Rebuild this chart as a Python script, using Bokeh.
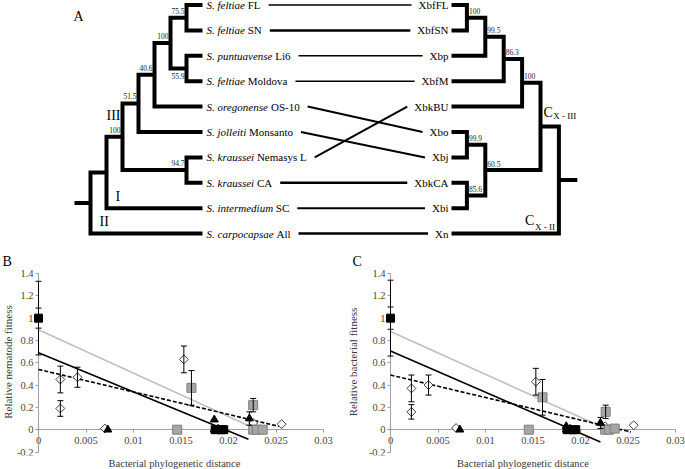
from bokeh.plotting import figure
from bokeh.layouts import column, row
from bokeh.models import (Range1d, ColumnDataSource, Whisker, TeeHead, FixedTicker,
                          NumeralTickFormatter, Title, LinearAxis)
from bokeh.core.properties import value
from bokeh.embed import file_html
from bokeh.resources import INLINE
import math

FONT = "Liberation Serif"

# ---------------- Panel A data ----------------
host_species = ["S. feltiae", "S. feltiae", "S. puntuavense", "S. feltiae", "S. oregonense",
                "S. jolleiti", "S. kraussei", "S. kraussei", "S. intermedium", "S. carpocapsae"]
host_strains = ["FL", "SN", "Li6", "Moldova", "OS-10", "Monsanto", "Nemasys L", "CA", "SC", "All"]
symbionts = ["XbfFL", "XbfSN", "Xbp", "XbfM", "XbkBU", "Xbo", "Xbj", "XbkCA", "Xbi", "Xn"]
host_symbiont = [0, 1, 2, 3, 5, 6, 4, 7, 8, 9]
link_widths = [1.5, 2.5, 1.5, 1.5, 2, 2, 2, 2.5, 2, 2.5]
# (child_a, child_b, support, clade label)
host_tree = (((((((0, 1, "75.5", ""), (2, 3, "55.9", ""), "100", ""), 4, "40.6", ""),
                5, "51.5", ""), (6, 7, "94.7", ""), "100", "III"), 8, "", "I"), 9, "", "II")
symbiont_tree = ((((((0, 1, "100", ""), 2, "99.5", ""), 3, "86.3", ""), 4, "100", ""),
                  ((5, 6, "99.9", ""), (7, 8, "85.6", ""), "60.5", ""), "", "X - III"),
                 9, "", "X - II")

# ---------------- Panels B / C data ----------------
x_ticks = [0, 0.005, 0.01, 0.015, 0.02, 0.025, 0.03]
y_ticks = [-0.2, 0, 0.2, 0.4, 0.6, 0.8, 1, 1.2, 1.4]

b_sq_x = [0, 0.0186, 0.0192, 0.0195]
b_sq_y = [1.0, 0, 0, 0]
b_sq_e = [0.09, 0, 0, 0]
b_tri_x = [0, 0.0073, 0.0185, 0.0185, 0.0222]
b_tri_y = [1.0, 0, 0.09, 0, 0.10]
b_tri_e = [0.33, 0, 0, 0, 0.06]
b_gsq_x = [0.0146, 0.0161, 0.0226, 0.0226, 0.0230, 0.0236]
b_gsq_y = [0, 0.375, 0.22, 0, 0, 0]
b_gsq_e = [0, 0.155, 0.06, 0, 0, 0]
b_dia_x = [0.0023, 0.0023, 0.0041, 0.0070, 0.0153, 0.0189, 0.0226, 0.0256]
b_dia_y = [0.45, 0.19, 0.47, 0.01, 0.63, 0.01, 0.06, 0.05]
b_dia_e = [0.12, 0.07, 0.09, 0, 0.12, 0, 0, 0]
b_trend_x0 = [0, 0, 0]
b_trend_y0 = [0.895, 0.69, 0.54]
b_trend_x1 = [0.0230, 0.0221, 0.0253]
b_trend_y1 = [0.0, -0.085, 0.03]

c_sq_x = [0, 0.0186, 0.0192, 0.0195]
c_sq_y = [1.0, 0, 0, 0]
c_sq_e = [0.10, 0, 0, 0]
c_tri_x = [0, 0.0073, 0.0185, 0.0185, 0.0221]
c_tri_y = [1.0, 0, 0.03, 0, 0.06]
c_tri_e = [0.34, 0, 0, 0, 0.05]
c_gsq_x = [0.01455, 0.0160, 0.02265, 0.0226, 0.0230, 0.0236]
c_gsq_y = [0, 0.29, 0.16, 0, 0, 0.01]
c_gsq_e = [0, 0.16, 0.06, 0, 0, 0]
c_dia_x = [0.0022, 0.0022, 0.0040, 0.0069, 0.0153, 0.0189, 0.0226, 0.0256]
c_dia_y = [0.37, 0.16, 0.40, 0.015, 0.43, 0.01, 0.03, 0.04]
c_dia_e = [0.12, 0.065, 0.09, 0, 0.12, 0, 0, 0]
c_trend_x0 = [0, 0, 0]
c_trend_y0 = [0.88, 0.705, 0.49]
c_trend_x1 = [0.0229, 0.0221, 0.0253]
c_trend_y1 = [0.0, -0.11, -0.02]

# ---------------- text metrics (Times) ----------------
TR = {' ': 250, '.': 250, '-': 333, '0': 500, '1': 500, '6': 500, 'A': 722, 'B': 667, 'C': 667,
      'F': 556, 'I': 333, 'L': 611, 'M': 889, 'N': 722, 'O': 722, 'S': 556, 'U': 722, 'X': 722,
      'a': 444, 'b': 500, 'c': 444, 'd': 500, 'e': 444, 'f': 333, 'i': 278, 'j': 278, 'k': 500,
      'l': 278, 'm': 778, 'n': 500, 'o': 500, 'p': 500, 'r': 333, 's': 389, 't': 278, 'v': 500,
      'y': 500}
TI = {' ': 250, '.': 250, 'S': 500, 'a': 500, 'c': 444, 'd': 500, 'e': 444, 'f': 278, 'g': 500,
      'i': 278, 'j': 278, 'k': 444, 'l': 278, 'm': 722, 'n': 500, 'o': 500, 'p': 500, 'r': 389,
      's': 389, 't': 278, 'u': 500, 'v': 444}


def text_w(s, table, size):
    return sum(table.get(ch, 500) for ch in s) * size / 1000.0


# ---------------- tree layout ----------------
TREE_W, TREE_H = 685, 250
TIP0_PX, TIP_STEP = 4.5, 25.4
Y_TOP_PX, Y_BOT_PX = 0.0, 250.0
tree_y_end = (Y_TOP_PX - TIP0_PX) / TIP_STEP
tree_y_start = (Y_BOT_PX - TIP0_PX) / TIP_STEP
PPU = TREE_H / (tree_y_start - tree_y_end)


def dy(px):
    return px / PPU


def host_x(level):
    return 202.0 - 16.0 * level


def symb_x(level):
    return 451.0 if level == 0 else 448.0 + 18.4 * level


def collect(node, out):
    if isinstance(node, int):
        return dict(lev=0, y=float(node), tip=True)
    a, b, sup, clade = node
    A = collect(a, out)
    B = collect(b, out)
    B["below"] = (A["lev"] == B["lev"])
    n = dict(lev=max(A["lev"], B["lev"]) + 1, y=(A["y"] + B["y"]) / 2, tip=False,
             A=A, B=B, sup=sup, clade=clade)
    out.append(n)
    return n


def polylines(nodes, root, fx):
    xs, ys = [], []
    for n in nodes:
        xa, xb, xn = fx(n["A"]["lev"]), fx(n["B"]["lev"]), fx(n["lev"])
        xs.append([xa, xn, xn, xb])
        ys.append([n["A"]["y"], n["A"]["y"], n["B"]["y"], n["B"]["y"]])
    xs.append([fx(root["lev"] + 1), fx(root["lev"])])
    ys.append([root["y"], root["y"]])
    return xs, ys


host_nodes, symb_nodes = [], []
host_root = collect(host_tree, host_nodes)
symb_root = collect(symbiont_tree, symb_nodes)

pt = figure(width=TREE_W, height=TREE_H, x_range=Range1d(0, TREE_W),
            y_range=Range1d(tree_y_start, tree_y_end), output_backend="svg",
            toolbar_location=None, x_axis_type=None, y_axis_type=None, min_border=0)
pt.outline_line_color = None
pt.grid.visible = False

for nodes, root, fx in ((host_nodes, host_root, host_x), (symb_nodes, symb_root, symb_x)):
    xs, ys = polylines(nodes, root, fx)
    pt.multi_line(xs, ys, line_color="black", line_width=4, line_join="miter", line_cap="butt")

# tip labels
lab_x0 = host_x(0) + 4
sp_x, sp_y, st_x, st_y, link_x0 = [], [], [], [], []
for i, (sp, st) in enumerate(zip(host_species, host_strains)):
    w_it = text_w(sp + " ", TI, 11)
    sp_x.append(lab_x0)
    st_x.append(lab_x0 + w_it)
    sp_y.append(i)
    st_y.append(i)
    link_x0.append(lab_x0 + w_it + text_w(st, TR, 11) + 8)

pt.text(sp_x, sp_y, text=host_species, text_font=value(FONT), text_font_size="11px",
        text_font_style="italic", text_baseline="middle", text_align="left", text_color="black")
pt.text(st_x, st_y, text=host_strains, text_font=value(FONT), text_font_size="11px",
        text_baseline="middle", text_align="left", text_color="black")

sym_lab_x = symb_x(0) - 3
pt.text([sym_lab_x] * len(symbionts), list(range(len(symbionts))), text=symbionts,
        text_font=value(FONT), text_font_size="11px", text_baseline="middle",
        text_align="right", text_color="black")
sym_link_end = [sym_lab_x - text_w(s, TR, 11) - 7 for s in symbionts]

link_src = ColumnDataSource(dict(
    x0=link_x0, y0=list(range(len(host_species))),
    x1=[sym_link_end[j] for j in host_symbiont], y1=[float(j) for j in host_symbiont],
    w=link_widths))
pt.segment("x0", "y0", "x1", "y1", source=link_src, line_color="black", line_width="w")

# support values
hs_x, hs_y, hs_t = [], [], []
for n in host_nodes:
    if n["sup"]:
        hs_x.append(host_x(n["lev"]) - 2)
        hs_y.append(n["y"] + dy(7 if n.get("below") else -7))
        hs_t.append(n["sup"])
pt.text(hs_x, hs_y, text=hs_t, text_font=value(FONT), text_font_size="7.5px",
        text_baseline="middle", text_align="right", text_color="#222222")
ss_x, ss_y, ss_t = [], [], []
for n in symb_nodes:
    if n["sup"]:
        ss_x.append(symb_x(n["lev"]) + 2)
        ss_y.append(n["y"] + dy(-6.5))
        ss_t.append(n["sup"])
pt.text(ss_x, ss_y, text=ss_t, text_font=value(FONT), text_font_size="7.5px",
        text_baseline="middle", text_align="left", text_color="#222222")

# clade labels
for n in host_nodes:
    if n["clade"]:
        if n["B"]["tip"]:
            pt.text([host_x(n["lev"]) + 9], [n["B"]["y"] + dy(-12)], text=[n["clade"]],
                    text_font=value(FONT), text_font_size="14px", text_baseline="middle",
                    text_align="left", text_color="black")
        else:
            pt.text([host_x(n["lev"]) - 2], [n["y"] + dy(-21)], text=[n["clade"]],
                    text_font=value(FONT), text_font_size="14px", text_baseline="middle",
                    text_align="right", text_color="black")
for n in symb_nodes:
    if n["clade"]:
        sub = n["clade"]
        if n["B"]["tip"]:
            sub_r = symb_x(n["lev"]) - 4
            c_x = sub_r - text_w(sub, TR, 9) - 0.5
            pt.text([sub_r], [n["B"]["y"] + dy(-6.5)], text=[sub], text_font=value(FONT),
                    text_font_size="9px", text_baseline="middle", text_align="right",
                    text_color="black")
            pt.text([c_x], [n["B"]["y"] + dy(-13)], text=["C"], text_font=value(FONT),
                    text_font_size="14px", text_baseline="middle", text_align="right",
                    text_color="black")
        else:
            c_x = symb_x(n["lev"]) + 3
            pt.text([c_x], [n["y"] + dy(-14)], text=["C"], text_font=value(FONT),
                    text_font_size="14px", text_baseline="middle", text_align="left",
                    text_color="black")
            pt.text([c_x + text_w("C", TR, 14) + 0.5], [n["y"] + dy(-10)], text=[sub],
                    text_font=value(FONT), text_font_size="9px", text_baseline="middle",
                    text_align="left", text_color="black")

pt.text([host_x(host_root["lev"] + 1) - 1], [dy(11)], text=["A"], text_font=value(FONT),
        text_font_size="14px", text_baseline="middle", text_align="left", text_color="black")

# ---------------- scatter panels ----------------
SC_H, SC_TOP, SC_BOT, SC_LEFT = 219, 18, 14, 15
PPU_X = 9500.0
AXIS_C = "#A0A0A0"
LABEL_C = "#474747"
TITLE_C = "#3A3A3A"
TOP_PAD, BOT_PAD = 5.0, 3.5   # px between frame edge and 1.4 / -0.2


def make_panel(letter, ylabel, letter_offset, page_left, width, zero_page, mbr, d):
    frame_left = page_left + SC_LEFT
    frame_right = page_left + width - mbr
    xs = -(zero_page - frame_left) / PPU_X
    xe = xs + (frame_right - frame_left) / PPU_X
    fh = SC_H - SC_TOP - SC_BOT
    ppu_y = (fh - TOP_PAD - BOT_PAD) / 1.6
    ye = 1.4 + TOP_PAD / ppu_y
    ys = -0.2 - BOT_PAD / ppu_y
    p = figure(width=width, height=SC_H, x_range=Range1d(xs, xe), y_range=Range1d(ys, ye),
               output_backend="svg", toolbar_location=None, x_axis_type=None,
               y_axis_type=None, min_border_left=SC_LEFT, min_border_right=mbr,
               min_border_top=SC_TOP, min_border_bottom=SC_BOT)
    p.outline_line_color = None
    p.grid.visible = False

    xaxis = LinearAxis(fixed_location=0, bounds=(0, 0.03), ticker=FixedTicker(ticks=x_ticks),
                       formatter=NumeralTickFormatter(format="0.[000]"))
    yaxis = LinearAxis(fixed_location=0, bounds=(-0.2, 1.4), ticker=FixedTicker(ticks=y_ticks),
                       formatter=NumeralTickFormatter(format="0.[000]"))
    for ax, so in ((xaxis, 4), (yaxis, 2)):
        ax.axis_line_color = AXIS_C
        ax.axis_line_width = 1
        ax.major_tick_line_color = AXIS_C
        ax.major_tick_out = 3
        ax.major_tick_in = 0
        ax.minor_tick_out = 0
        ax.minor_tick_in = 0
        ax.major_label_text_font = FONT
        ax.major_label_text_font_size = "10.5px"
        ax.major_label_text_color = LABEL_C
        ax.major_label_standoff = so
        ax.level = "underlay"
    p.add_layout(xaxis, "below")
    p.add_layout(yaxis, "left")

    p.add_layout(Title(text=ylabel, align="center", standoff=0, vertical_align="top",
                       text_font=FONT, text_font_size="11px", text_font_style="normal",
                       text_color=TITLE_C), "left")
    p.add_layout(Title(text="Bacterial phylogenetic distance", align="center", standoff=0,
                       text_font=FONT, text_font_size="10.5px", text_font_style="normal",
                       text_color=TITLE_C), "below")
    p.add_layout(Title(text=letter, align="left", offset=letter_offset, standoff=0,
                       text_font=FONT, text_font_size="14px", text_font_style="normal",
                       text_color="black"), "above")

    # trend lines: gray, black, dashed
    tx0, ty0, tx1, ty1 = d["trend"]
    p.segment([tx0[0]], [ty0[0]], [tx1[0]], [ty1[0]], line_color="#BFBFBF", line_width=1.6)
    p.segment([tx0[1]], [ty0[1]], [tx1[1]], [ty1[1]], line_color="black", line_width=1.6)
    p.segment([tx0[2]], [ty0[2]], [tx1[2]], [ty1[2]], line_color="black", line_width=1.6,
              line_dash="4 2")

    # error bars
    ex, lo, hi = [], [], []
    for key in ("dia", "gsq", "tri", "sq"):
        xv, yv, ev = d[key]
        for x, y, e in zip(xv, yv, ev):
            if e > 0:
                ex.append(x)
                lo.append(y - e)
                hi.append(y + e)
    esrc = ColumnDataSource(dict(x=ex, lo=lo, hi=hi))
    p.add_layout(Whisker(base="x", lower="lo", upper="hi", source=esrc, dimension="height",
                         line_color="black", line_width=1, level="glyph",
                         upper_head=TeeHead(size=6, line_color="black", line_width=1),
                         lower_head=TeeHead(size=6, line_color="black", line_width=1)))

    xv, yv, _ = d["dia"]
    p.scatter(xv, yv, marker="square", angle=math.pi / 4, size=6.3, fill_color="white",
              line_color="#404040", line_width=1)
    xv, yv, _ = d["gsq"]
    p.scatter(xv, yv, marker="square", size=9, fill_color="#A6A6A6", line_color="#7F7F7F",
              line_width=1)
    xv, yv, _ = d["tri"]
    p.scatter(xv, yv, marker="triangle", size=8, fill_color="black", line_color="black")
    xv, yv, _ = d["sq"]
    p.scatter(xv, yv, marker="square", size=8, fill_color="black", line_color="black")
    return p


b_data = dict(sq=(b_sq_x, b_sq_y, b_sq_e), tri=(b_tri_x, b_tri_y, b_tri_e),
              gsq=(b_gsq_x, b_gsq_y, b_gsq_e), dia=(b_dia_x, b_dia_y, b_dia_e),
              trend=(b_trend_x0, b_trend_y0, b_trend_x1, b_trend_y1))
c_data = dict(sq=(c_sq_x, c_sq_y, c_sq_e), tri=(c_tri_x, c_tri_y, c_tri_e),
              gsq=(c_gsq_x, c_gsq_y, c_gsq_e), dia=(c_dia_x, c_dia_y, c_dia_e),
              trend=(c_trend_x0, c_trend_y0, c_trend_x1, c_trend_y1))

pb = make_panel("B", "Relative nematode fitness", -13, 0, 345, 38, 12, b_data)
pc = make_panel("C", "Relative bacterial fitness", -8, 345, 340, 390, 0, c_data)

layout = column(pt, row(pb, pc))
open("out.html", "w").write(file_html(layout, INLINE))
